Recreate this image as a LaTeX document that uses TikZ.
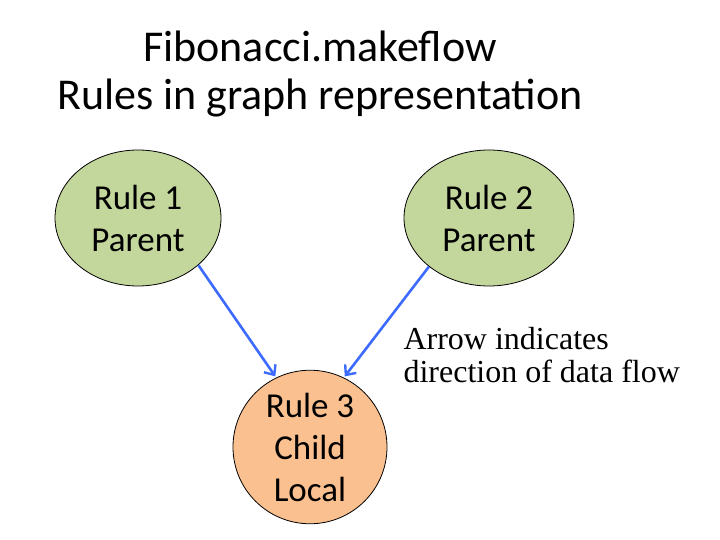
\documentclass[tikz,border=0pt]{standalone}
\usepackage{fontspec}
\setmainfont{Carlito}
\newfontfamily\annfont{Liberation Serif}
\usetikzlibrary{arrows.meta,shapes.geometric}
\definecolor{nodegreen}{HTML}{C3D69B}
\definecolor{nodeorange}{HTML}{FAC090}
\definecolor{arrowblue}{HTML}{3D6BFF}
\begin{document}
\begin{tikzpicture}[x=1pt,y=-1pt,
  rule/.style={ellipse, draw=black, line width=0.8pt, align=center, font=\fontsize{35}{42}\selectfont, inner sep=0pt},
  flow/.style={draw=arrowblue, line width=2.6pt, shorten >=1.5pt, -{Straight Barb[length=8pt,width=14pt,line width=2.4pt]}}]
\useasboundingbox (0,0) rectangle (720,540);
\node (title) at (320,74) [align=center, font=\fontsize{44}{48}\selectfont] {Fibonacci.makeflow\\Rules in graph representation};
\node[rule, fill=nodegreen, minimum width=166pt, minimum height=136pt] (r1) at (138,218) {Rule 1\\Parent};
\node[rule, fill=nodegreen, minimum width=170pt, minimum height=136pt] (r2) at (489,218) {Rule 2\\Parent};
\node[rule, fill=nodeorange, minimum width=154pt, minimum height=141pt] (r3) at (310,447) {Rule 3\\Child\\Local};
\node (note) at (400,355) [anchor=west, align=left, font=\annfont\fontsize{32}{33}\selectfont] {Arrow indicates\\direction of data flow};
\draw[flow] (r1.-38.5) -- (r3.116);
\draw[flow] (r2.-141.5) -- (r3.64);
\end{tikzpicture}
\end{document}
